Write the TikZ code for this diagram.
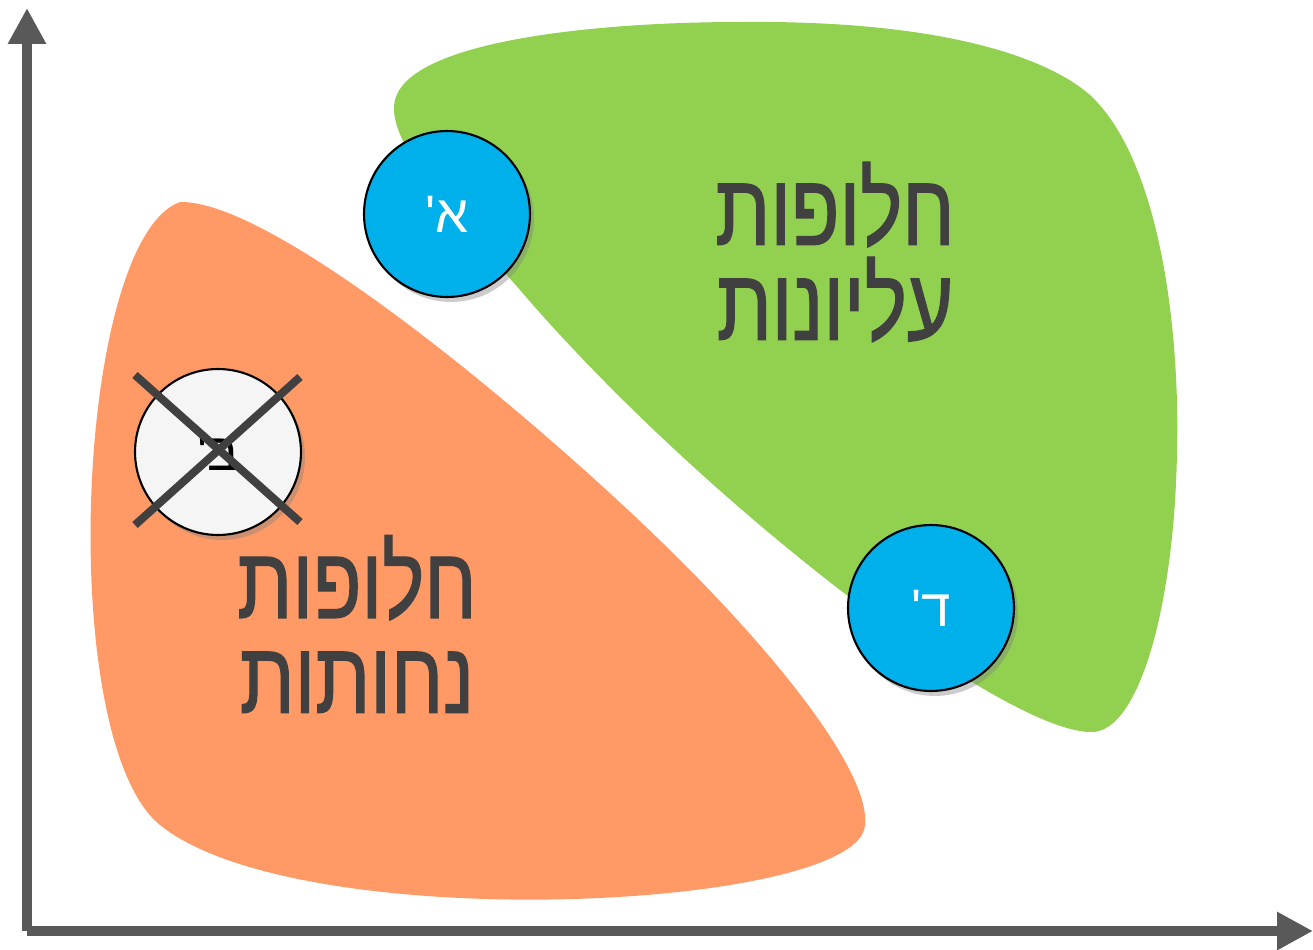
\documentclass[tikz,border=0pt]{standalone}
\usepackage{fontspec}
\setmainfont{Liberation Sans}
\newfontfamily\hebfont[Script=Hebrew]{Liberation Sans}
\newfontfamily\hebnarrow[Script=Hebrew, FakeStretch=0.78, FakeBold=1.2]{Liberation Sans}
\TeXXeTstate=1
\usetikzlibrary{arrows.meta,shadows}
\definecolor{axisgray}{HTML}{595959}
\definecolor{textgray}{HTML}{404040}
\definecolor{topgreen}{HTML}{92D050}
\definecolor{loworange}{HTML}{FF9966}
\definecolor{altblue}{HTML}{00B0EA}
\definecolor{altwhite}{HTML}{F5F5F5}
\newcommand{\heb}[1]{{\hebfont\beginR #1\endR}}
\newcommand{\hebwide}[1]{{\hebnarrow\beginR #1\endR}}
\tikzset{
  axis/.style={line width=0.2cm, draw=axisgray, -{Triangle[length=0.72cm, width=0.72cm]}},
  alt/.style={draw=black, line width=1.2pt, circle, minimum size=3.32cm, inner sep=0pt,
              font=\fontsize{30}{30}\selectfont,
              drop shadow={opacity=0.4, shadow xshift=0.08cm, shadow yshift=-0.1cm}},
  regionlabel/.style={text=textgray, align=center, font=\fontsize{58}{54}\selectfont},
  cross/.style={line width=0.16cm, draw=textgray}
}
\begin{document}
\begin{tikzpicture}[x=0.02cm, y=-0.02cm, every node/.style={outer sep=0pt}]
    \useasboundingbox (0,0) rectangle (1313,950);
    % regions
    \fill[topgreen] (740,22) .. controls (950,20) and (1050,60) .. (1090,95)
          .. controls (1160,160) and (1180,330) .. (1177,450)
          .. controls (1175,600) and (1140,735) .. (1090,732)
          .. controls (1000,730) and (700,500) .. (520,290)
          .. controls (450,210) and (385,140) .. (395,100)
          .. controls (410,40) and (600,22) .. (740,22) -- cycle;
    \fill[loworange] (180,202) .. controls (280,200) and (560,440) .. (680,560)
          .. controls (800,680) and (870,780) .. (865,825)
          .. controls (860,910) and (300,938) .. (160,825)
          .. controls (55,740) and (75,240) .. (180,202) -- cycle;

    % axes
    \coordinate (origin) at (27,931);
    \coordinate (ytip) at (27,8);
    \coordinate (xtip) at (1313,931);
    \draw[axis] (origin) -- (ytip);
    \draw[axis] (origin) -- (xtip);

    % region labels
    \node[regionlabel] (upper) at (835,252) {\hebwide{חלופות}\\\hebwide{עליונות}};
    \node[regionlabel] (lower) at (357,624) {\hebwide{חלופות}\\\hebwide{נחותות}};

    % alternatives
    \node[alt, fill=altblue, text=white] (altA) at (447,214) {\heb{א'}};
    \node[alt, fill=altblue, text=white] (altD) at (931,608) {\heb{ד'}};
    \node[alt, fill=altwhite, text=black] (altB) at (218,452) {\heb{ב'}};

    % crossed out
    \draw[cross] ([shift={(-83,-77)}]altB.center) -- ([shift={(82,70)}]altB.center);
    \draw[cross] ([shift={(-83,73)}]altB.center) -- ([shift={(82,-75)}]altB.center);
\end{tikzpicture}
\end{document}
